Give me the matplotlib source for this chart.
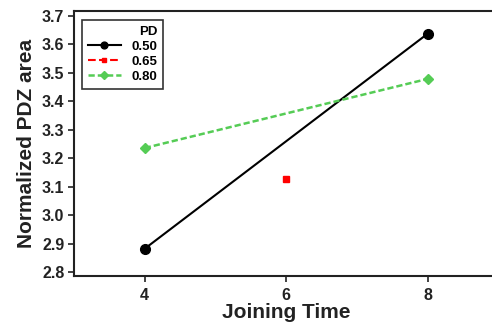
import matplotlib.pyplot as plt

plt.rcParams['font.family'] = ['Liberation Sans', 'DejaVu Sans']
plt.rcParams['font.weight'] = 'bold'

joining_time = [4, 6, 8]
pd_levels = ["0.50", "0.65", "0.80"]
pdz_050 = [2.882, 3.638]
x_050 = [4, 8]
pdz_065 = [3.126]
x_065 = [6]
pdz_080 = [3.236, 3.479]
x_080 = [4, 8]

fig = plt.figure(figsize=(4.92, 3.28), dpi=100)
ax = fig.add_axes([74 / 492, 1 - 276 / 328, 424.5 / 492, 265 / 328])

ax.plot(x_050, pdz_050, "-", color="black", lw=1.5, marker="o", ms=7, label=pd_levels[0])
ax.plot(x_065, pdz_065, "--", color="#ff0000", lw=1.5, marker="s", ms=5, label=pd_levels[1])
ax.plot(x_080, pdz_080, "--", color="#55cc55", lw=1.8, marker="D", ms=5.5, label=pd_levels[2],
        dashes=(2.5, 1.2))

ax.set_xlim(3, 9)
ax.set_ylim(2.786, 3.7176)
ax.set_xticks(joining_time)
ax.set_yticks([2.8, 2.9, 3.0, 3.1, 3.2, 3.3, 3.4, 3.5, 3.6, 3.7])
ax.tick_params(labelsize=11.5, width=1.2, length=4, colors="#222222")
ax.tick_params(axis="x", pad=5)
ax.tick_params(axis="y", pad=3)
for lab in ax.get_xticklabels() + ax.get_yticklabels():
    lab.set_fontweight("bold")
for s in ax.spines.values():
    s.set_linewidth(1.5)
    s.set_color("#222222")

ax.set_xlabel("Joining Time", fontsize=15, fontweight="bold", color="#222222", labelpad=0)
ax.set_ylabel("Normalized PDZ area", fontsize=15, fontweight="bold", color="#222222", labelpad=4)

leg = ax.legend(title="PD", loc="upper left", fontsize=9.5, title_fontsize=9.5,
                frameon=True, fancybox=False, edgecolor="black", handlelength=2.5,
                borderpad=0.45, labelspacing=0.2, alignment="right", markerscale=0.7,
                borderaxespad=0, bbox_to_anchor=(0.019, 0.966))
leg.get_frame().set_linewidth(1.2)
leg.get_title().set_fontweight("bold")
for t in leg.get_texts():
    t.set_fontweight("bold")

plt.savefig("out.png", dpi=100)
